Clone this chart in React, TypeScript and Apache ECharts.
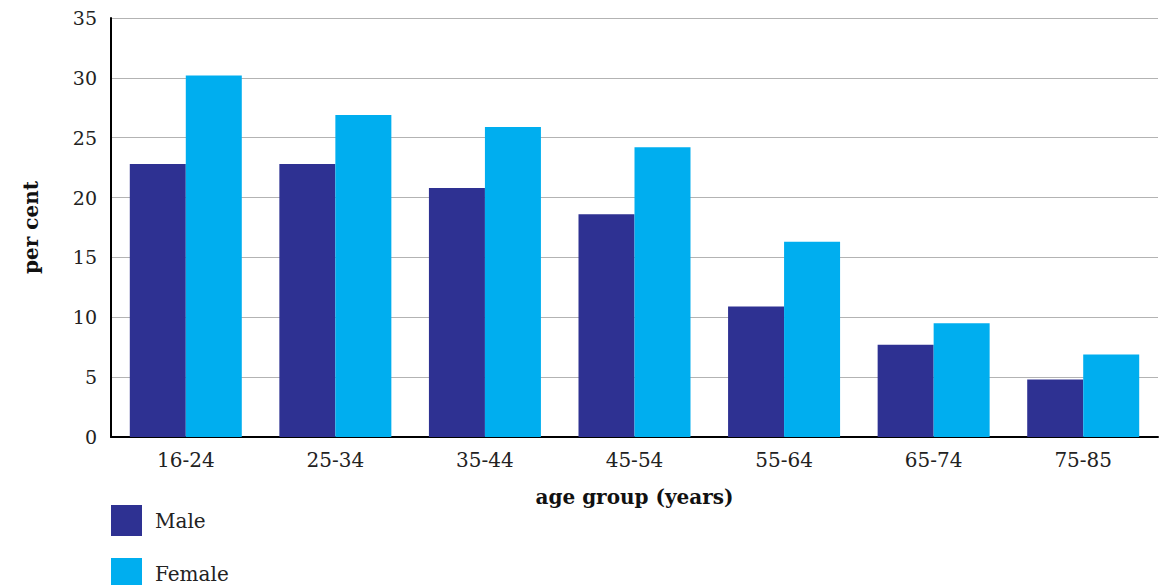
import React, { useEffect, useRef } from "react";
import * as echarts from "echarts";

const categories = ["16-24", "25-34", "35-44", "45-54", "55-64", "65-74", "75-85"];
const maleValues = [22.8, 22.8, 20.8, 18.6, 10.9, 7.7, 4.8];
const femaleValues = [30.2, 26.9, 25.9, 24.2, 16.3, 9.5, 6.9];
const seriesNames = ["Male", "Female"];
const yTicks = { min: 0, max: 35, interval: 5 };

const FONT = "'DejaVu Serif', serif";

const legendBase = {
  orient: "vertical",
  left: 106,
  itemWidth: 31,
  itemHeight: 31,
  icon: "rect",
  textStyle: { fontFamily: FONT, fontSize: 20, color: "#222", padding: [0, 0, 0, 8] },
};

export default function App() {
  const ref = useRef<HTMLDivElement>(null);
  useEffect(() => {
    if (!ref.current) return;
    const chart = echarts.init(ref.current, null, { renderer: "svg" });
    chart.setOption({
      animation: false,
      textStyle: { fontFamily: FONT },
      grid: { left: 111, right: 8, top: 18, bottom: 148, containLabel: false },
      legend: [
        { ...legendBase, top: 500, data: [seriesNames[0]] },
        { ...legendBase, top: 553, data: [seriesNames[1]] },
      ],
      xAxis: {
        type: "category",
        data: categories,
        axisLine: { lineStyle: { color: "#000", width: 2 } },
        axisTick: { show: false },
        axisLabel: { fontFamily: FONT, fontSize: 20, color: "#222", margin: 13 },
        name: "age group (years)",
        nameLocation: "middle",
        nameGap: 50,
        nameTextStyle: { fontFamily: FONT, fontSize: 20, fontWeight: "bold", color: "#111" },
      },
      yAxis: {
        type: "value",
        min: yTicks.min,
        max: yTicks.max,
        interval: yTicks.interval,
        axisLine: { show: true, lineStyle: { color: "#000", width: 2 } },
        axisTick: { show: false },
        splitLine: { lineStyle: { color: "#b3b3b3", width: 1 } },
        axisLabel: { fontFamily: FONT, fontSize: 19, color: "#222", margin: 14 },
        name: "per cent",
        nameLocation: "middle",
        nameRotate: 90,
        nameGap: 70,
        nameTextStyle: { fontFamily: FONT, fontSize: 20, fontWeight: "bold", color: "#111" },
      },
      series: [
        {
          name: seriesNames[0],
          type: "bar",
          data: maleValues,
          barWidth: 56,
          barGap: "0%",
          itemStyle: { color: "#2E3192" },
        },
        {
          name: seriesNames[1],
          type: "bar",
          data: femaleValues,
          barWidth: 56,
          barGap: "0%",
          itemStyle: { color: "#00AEEF" },
        },
      ],
    });
    return () => chart.dispose();
  }, []);
  return (
    <div
      ref={ref}
      style={{ position: "fixed", left: 0, top: 0, width: 1166, height: 585, background: "#fff" }}
    />
  );
}
